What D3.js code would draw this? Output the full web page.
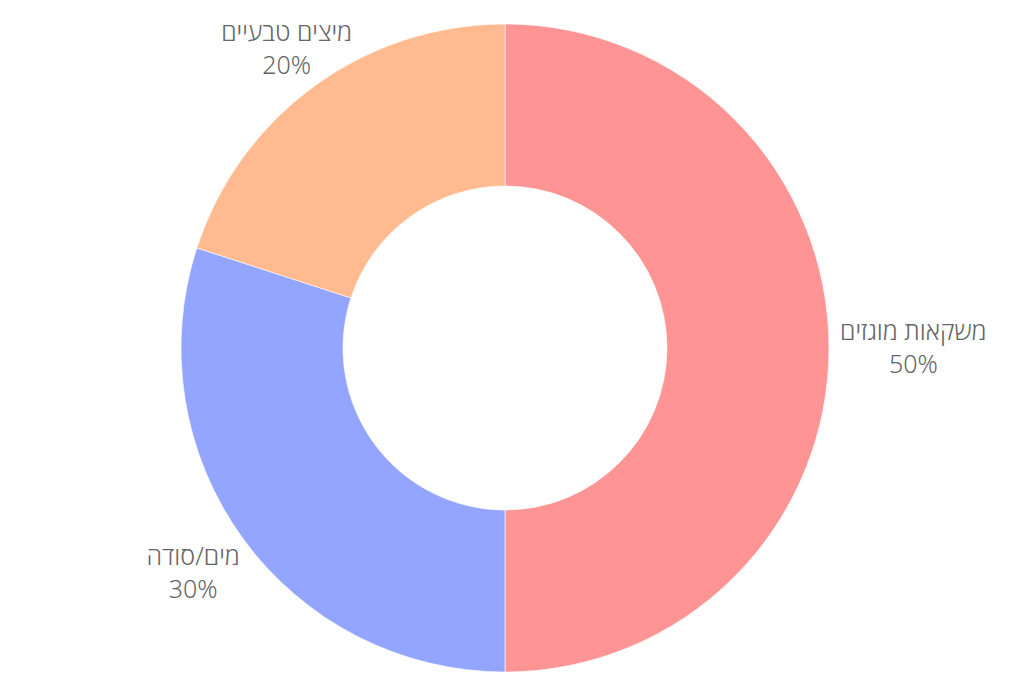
<!DOCTYPE html>
<html>
<head>
<meta charset="utf-8">
<script src="https://cdn.jsdelivr.net/npm/d3@7"></script>
<style>
  html, body { margin: 0; padding: 0; background: white; }
  svg { display: block; }
</style>
</head>
<body>
<script>
// data
const categories = ["משקאות מוגזים", "מים/סודה", "מיצים טבעיים"];
const shares = [50, 30, 20];
const colors = ["#FF9494", "#93A5FF", "#FFBA8F"];

const width = 1011, height = 696;
const svg = d3.select("body").append("svg").attr("width", width).attr("height", height);

const cx = 505, cy = 348;
const outerR = 324, innerR = 162;
const g = svg.append("g").attr("transform", `translate(${cx}, ${cy})`);

const pie = d3.pie().sort(null).value(d => d.value);
const arcs = pie(categories.map((c, i) => ({name: c, value: shares[i], color: colors[i]})));
const arc = d3.arc().innerRadius(innerR).outerRadius(outerR);

g.selectAll("path.slice")
  .data(arcs).join("path")
  .attr("class", "slice")
  .attr("d", arc)
  .attr("fill", d => d.data.color)
  .attr("stroke", "white")
  .attr("stroke-width", 0.6);

// labels: box pushed outward along the mid angle
const labelR = outerR + 11;
const fontSize = 25, lineH = 33;
arcs.forEach(d => {
  const a = (d.startAngle + d.endAngle) / 2;
  const dx = Math.sin(a), dy = -Math.cos(a);
  const lg = g.append("g");
  const t = lg.append("text")
    .attr("text-anchor", "middle")
    .attr("fill", "#666")
    .attr("font-family", "'Noto Sans', 'Open Sans', sans-serif")
    .attr("font-weight", 300)
    .attr("font-size", fontSize);
  t.append("tspan").attr("x", 0).attr("y", 0).attr("direction", "rtl").attr("unicode-bidi", "embed").text(d.data.name);
  t.append("tspan").attr("x", 0).attr("y", lineH).text(d.data.value + "%");
  const bb = t.node().getBBox();
  const px = labelR * dx, py = labelR * dy;
  const bx = px + dx * bb.width / 2 - (bb.x + bb.width / 2) + (dy > 0.3 ? -3 : 0);
  const by = py + dy * bb.height / 2 - (bb.y + bb.height / 2) + (dy > 0.3 ? 9 : 0) - 2;
  const extraX = dy < -0.3 ? 17 : 0;
  lg.attr("transform", `translate(${bx + extraX}, ${by})`);
});
</script>
</body>
</html>
